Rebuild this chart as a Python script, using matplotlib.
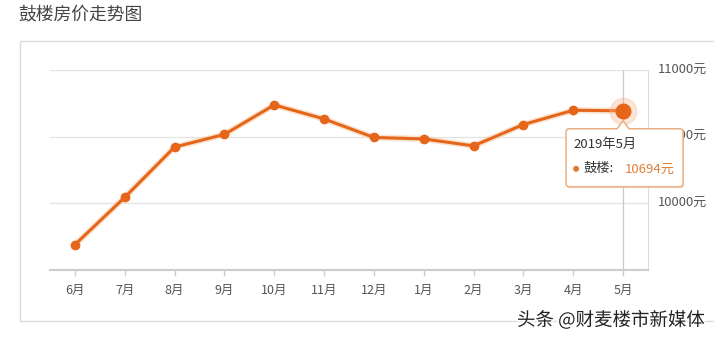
import numpy as np
import matplotlib
matplotlib.use("Agg")
import matplotlib.pyplot as plt
from matplotlib.patches import Rectangle, FancyBboxPatch, Polygon, Circle
import matplotlib.patheffects as pe

plt.rcParams['font.family'] = ['Noto Sans CJK SC', 'DejaVu Sans']

months = ['6月', '7月', '8月', '9月', '10月', '11月', '12月', '1月', '2月', '3月', '4月', '5月']
prices = [9690, 10045, 10422, 10517, 10738, 10633, 10494, 10483, 10431, 10591, 10698, 10694]
yticks = [10000, 10500, 11000]
ytick_labels = ['10000元', '10500元', '11000元']
tip_title = '2019年5月'
tip_name = '鼓楼'

line_c = '#e5661b'
W, H = 714, 340

fig = plt.figure(figsize=(W / 100, H / 100), dpi=100)
fig.patch.set_facecolor('white')

# outer panel
fig.patches.append(Rectangle((20 / W, 19 / H), 700 / W, 280 / H, transform=fig.transFigure,
                             fill=False, ec='#dcdcdc', lw=1.0))

ax = fig.add_axes([50 / W, 70 / H, 598 / W, 200 / H])
x = np.arange(len(months))
ax.set_xlim(-0.5, len(months) - 0.5)
ax.set_ylim(9500, 11000)

for s in ['top', 'left']:
    ax.spines[s].set_visible(False)
ax.spines['right'].set_color('#dddddd')
ax.spines['right'].set_linewidth(0.8)
ax.spines['bottom'].set_color('#cccccc')
ax.spines['bottom'].set_linewidth(1.5)

ax.set_yticks(yticks)
ax.set_yticklabels(ytick_labels)
ax.yaxis.tick_right()
ax.tick_params(axis='y', length=0, pad=7, labelsize=9.3, labelcolor='#555555')
for t in ax.get_yticklabels():
    t.set_verticalalignment('center')
ax.grid(axis='y', color='#e2e2e2', lw=0.9)
ax.set_axisbelow(True)

ax.set_xticks(x)
ax.set_xticklabels(months)
ax.tick_params(axis='x', length=4, width=1, color='#cccccc', pad=6, labelsize=9, labelcolor='#555555')

# crosshair on last month
ax.axvline(x[-1], color='#c8c8c8', lw=0.9, zorder=1)

ax.plot(x, prices, color='#f7c9a0', lw=4.5, alpha=0.5, zorder=2, solid_capstyle='round')
ax.plot(x, prices, color=line_c, lw=2.2, marker='o', ms=6, mfc=line_c, mec=line_c, zorder=3)
ax.plot(x[-1], prices[-1], 'o', ms=19, color='#f8b58a', alpha=0.35, zorder=4)
ax.plot(x[-1], prices[-1], 'o', ms=10.5, color=line_c, zorder=5)

fig.canvas.draw()
px, py = ax.transData.transform((x[-1], prices[-1]))

# tooltip
bx0, bx1 = px - 57, px + 60
by1 = py - 18
by0 = py - 76
shadow = FancyBboxPatch((bx0 + 1, by0 - 1.5), bx1 - bx0, by1 - by0, boxstyle='round,pad=0,rounding_size=3',
                        transform=None, fc='#f3d8c4', ec='none', alpha=0.6, zorder=9)
box = FancyBboxPatch((bx0, by0), bx1 - bx0, by1 - by0, boxstyle='round,pad=0,rounding_size=3',
                     transform=None, fc='white', ec='#e9a877', lw=1.0, zorder=10)
fig.patches.extend([shadow, box])
arrow = Polygon([(px - 6, by1), (px, py - 10), (px + 6, by1)], closed=False, transform=None,
                fc='white', ec='#e9a877', lw=1.0, zorder=11)
fig.patches.append(arrow)
fig.patches.append(Rectangle((px - 5, by1 - 1.5), 10, 2.5, transform=None, fc='white', ec='none', zorder=12))

fig.text((bx0 + 7) / W, (by1 - 16) / H, tip_title, fontsize=9.5, color='#333333', va='center', zorder=13)
fig.patches.append(Circle((bx0 + 10, by1 - 40), 3, transform=None, fc='#e07a30', ec='none', zorder=13))
fig.text((bx0 + 17) / W, (by1 - 40) / H, tip_name + ':', fontsize=9.5, color='#333333', va='center', zorder=13)
fig.text((bx0 + 59) / W, (by1 - 40) / H, f'{prices[-1]}元', fontsize=9.5, color='#e07d38', va='center', zorder=13)

fig.text(18 / W, 1 - 14 / H, '鼓楼房价走势图', fontsize=12.8, color='#444444', va='center')
fig.text(705 / W, 1 - 320 / H, '头条 @财麦楼市新媒体', fontsize=13.3, color='#222222', ha='right', va='center',
         path_effects=[pe.withStroke(linewidth=2.5, foreground='white')])

fig.savefig('out.png', dpi=100)
